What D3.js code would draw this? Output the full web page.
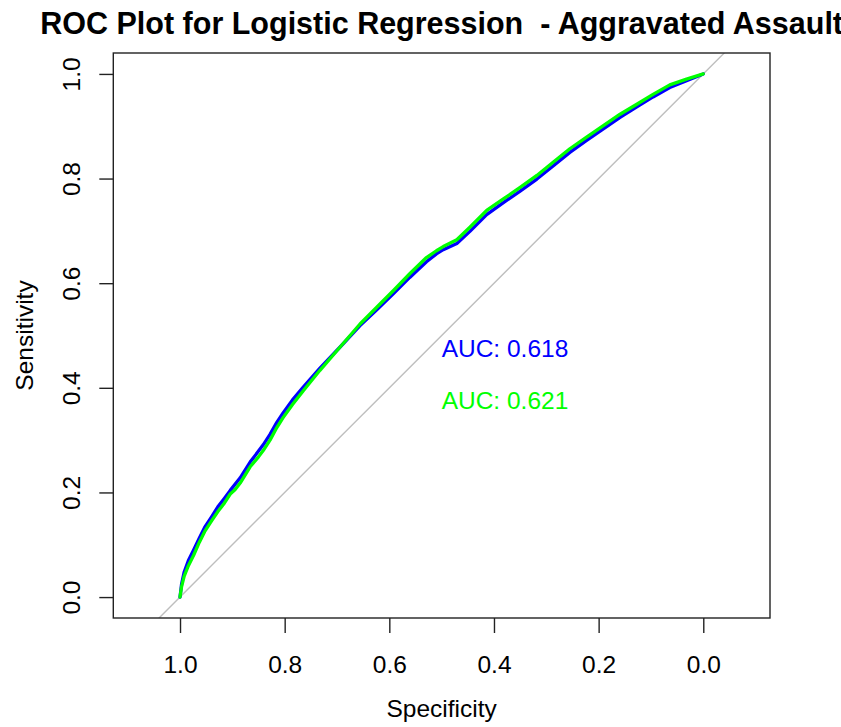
<!DOCTYPE html>
<html>
<head>
<meta charset="utf-8">
<script src="https://cdn.jsdelivr.net/npm/d3@7"></script>
<style>
  html, body { margin: 0; padding: 0; background: #fff; }
  svg { display: block; }
  text { font-family: "Liberation Sans", Arial, sans-serif; fill: #000; }
</style>
</head>
<body>
<svg id="chart" width="841" height="727"></svg>
<script>
// ROC curves: [specificity, sensitivity]
const rocBlue = [
  [1.000, 0.000], [0.997, 0.025], [0.992, 0.048], [0.984, 0.070], [0.974, 0.090],
  [0.963, 0.113], [0.953, 0.133], [0.940, 0.153], [0.928, 0.172], [0.915, 0.189],
  [0.904, 0.204], [0.885, 0.228], [0.866, 0.258], [0.850, 0.279], [0.841, 0.291],
  [0.828, 0.311], [0.815, 0.334], [0.803, 0.352], [0.785, 0.377], [0.764, 0.402],
  [0.733, 0.437], [0.694, 0.478], [0.656, 0.519], [0.624, 0.549], [0.592, 0.580],
  [0.561, 0.611], [0.529, 0.641], [0.510, 0.656], [0.497, 0.664], [0.471, 0.676],
  [0.446, 0.699], [0.414, 0.731], [0.382, 0.754], [0.350, 0.776], [0.318, 0.799],
  [0.287, 0.824], [0.255, 0.850], [0.223, 0.873], [0.191, 0.895], [0.159, 0.917],
  [0.127, 0.937], [0.096, 0.956], [0.064, 0.974], [0.032, 0.987], [0.000, 1.000]
];
const rocGreen = [
  [1.000, 0.000], [0.997, 0.020], [0.992, 0.040], [0.984, 0.060], [0.974, 0.080],
  [0.963, 0.105], [0.953, 0.125], [0.940, 0.145], [0.928, 0.163], [0.915, 0.180],
  [0.904, 0.197], [0.895, 0.205], [0.885, 0.218], [0.866, 0.249], [0.850, 0.268],
  [0.841, 0.280], [0.828, 0.300], [0.815, 0.324], [0.803, 0.343], [0.785, 0.368],
  [0.764, 0.395], [0.733, 0.433], [0.694, 0.478], [0.656, 0.522], [0.624, 0.554],
  [0.592, 0.586], [0.561, 0.618], [0.529, 0.649], [0.510, 0.662], [0.497, 0.670],
  [0.471, 0.683], [0.446, 0.707], [0.414, 0.739], [0.382, 0.761], [0.350, 0.783],
  [0.318, 0.806], [0.287, 0.831], [0.255, 0.857], [0.223, 0.879], [0.191, 0.901],
  [0.159, 0.923], [0.127, 0.942], [0.096, 0.961], [0.064, 0.979], [0.032, 0.990],
  [0.000, 1.000]
];
const aucLabels = ["AUC: 0.618", "AUC: 0.621"];
const aucPositions = [[0.5, 0.5], [0.5, 0.4]];
const seriesColors = ["#0000ff", "#00ff00"];
const xTicks = [1.0, 0.8, 0.6, 0.4, 0.2, 0.0];
const yTicks = [0.0, 0.2, 0.4, 0.6, 0.8, 1.0];
const titleText = "ROC Plot for Logistic Regression  - Aggravated Assault";
const xTitle = "Specificity";
const yTitle = "Sensitivity";

const svg = d3.select("#chart");
const box = { left: 113.3, right: 770, top: 53, bottom: 618 };

const x = d3.scaleLinear().domain([1.1275, -0.1275]).range([box.left, box.right]);
const y = d3.scaleLinear().domain([-0.04, 1.04]).range([box.bottom, box.top]);

svg.append("defs").append("clipPath").attr("id", "plotClip")
  .append("rect")
  .attr("x", box.left).attr("y", box.top)
  .attr("width", box.right - box.left).attr("height", box.bottom - box.top);

const plot = svg.append("g").attr("clip-path", "url(#plotClip)");

// chance diagonal
plot.append("line")
  .attr("x1", x(1.2)).attr("y1", y(-0.2))
  .attr("x2", x(-0.2)).attr("y2", y(1.2))
  .attr("stroke", "#bebebe").attr("stroke-width", 1.4);

const line = d3.line().x(d => x(d[0])).y(d => y(d[1]));
[rocBlue, rocGreen].forEach((data, i) => {
  plot.append("path")
    .datum(data)
    .attr("d", line)
    .attr("fill", "none")
    .attr("stroke", seriesColors[i])
    .attr("stroke-width", 3.3)
    .attr("stroke-linejoin", "round")
    .attr("stroke-linecap", "round");
});

// AUC labels
aucLabels.forEach((t, i) => {
  svg.append("text")
    .attr("x", x(aucPositions[i][0]))
    .attr("y", y(aucPositions[i][1]) + 21.5)
    .attr("font-size", 24.5)
    .style("fill", seriesColors[i])
    .text(t);
});

// plot frame
svg.append("rect")
  .attr("x", box.left).attr("y", box.top)
  .attr("width", box.right - box.left).attr("height", box.bottom - box.top)
  .attr("fill", "none").attr("stroke", "#222").attr("stroke-width", 1.4);

// x axis
const xAxis = svg.append("g")
  .attr("transform", `translate(0,${box.bottom})`)
  .call(d3.axisBottom(x).tickValues(xTicks).tickFormat(d3.format(".1f")).tickSize(15).tickPadding(0));
xAxis.select(".domain").remove();
xAxis.selectAll(".tick line").attr("stroke", "#222").attr("stroke-width", 1.4);
xAxis.selectAll(".tick text")
  .attr("y", 54.5).attr("dy", null)
  .attr("font-size", 24.5)
  .attr("font-family", "Liberation Sans, Arial, sans-serif")
  .style("fill", "#000");

// y axis
const yAxis = svg.append("g")
  .attr("transform", `translate(${box.left},0)`)
  .call(d3.axisLeft(y).tickValues(yTicks).tickFormat(d3.format(".1f")).tickSize(14).tickPadding(0));
yAxis.select(".domain").remove();
yAxis.selectAll(".tick line").attr("stroke", "#222").attr("stroke-width", 1.4);
yAxis.selectAll(".tick text")
  .attr("x", null).attr("dy", null)
  .attr("text-anchor", "middle")
  .attr("transform", "translate(-33,0) rotate(-90)")
  .attr("font-size", 24.5)
  .attr("font-family", "Liberation Sans, Arial, sans-serif")
  .style("fill", "#000");

// titles
const cx = (box.left + box.right) / 2;
const cy = (box.top + box.bottom) / 2;
svg.append("text")
  .attr("x", cx).attr("y", 34)
  .attr("text-anchor", "middle")
  .attr("font-size", 30.5).attr("font-weight", "bold")
  .style("white-space", "pre")
  .text(titleText);
svg.append("text")
  .attr("x", cx).attr("y", 716.5)
  .attr("text-anchor", "middle")
  .attr("font-size", 24.5)
  .text(xTitle);
svg.append("text")
  .attr("transform", `translate(33.3,${cy}) rotate(-90)`)
  .attr("text-anchor", "middle")
  .attr("font-size", 24.5)
  .text(yTitle);
</script>
</body>
</html>
